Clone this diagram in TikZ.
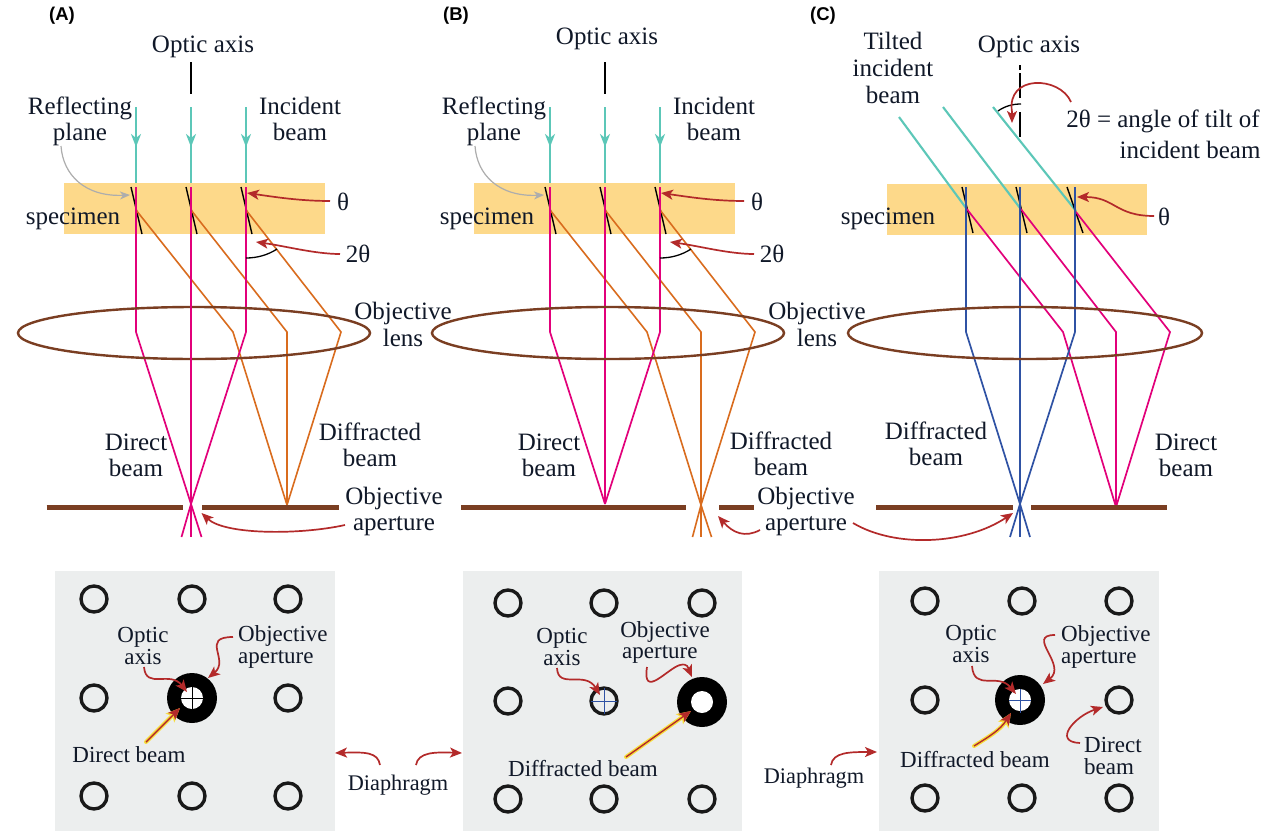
\documentclass[tikz,border=0pt]{standalone}
\usepackage{fontspec}
\setmainfont{Liberation Serif}
\newfontfamily\panelfont{Liberation Sans}
\usetikzlibrary{arrows.meta}
\definecolor{tealb}{HTML}{5CC7B8}
\definecolor{pinkb}{HTML}{E2007A}
\definecolor{orangeb}{HTML}{D96C1E}
\definecolor{blueb}{HTML}{2F52A4}
\definecolor{brownb}{HTML}{7A3E22}
\definecolor{redarr}{HTML}{B32A2A}
\definecolor{spec}{HTML}{FDD98A}
\definecolor{panelgray}{HTML}{ECEEEE}
\definecolor{yellowh}{HTML}{F7DE3A}
\definecolor{inkc}{HTML}{101828}
\tikzset{
  lbl/.style={inner sep=0pt,text=inkc,align=center,font=\fontsize{25}{26}\selectfont},
  lbs/.style={inner sep=0pt,text=inkc,align=center,font=\fontsize{23}{22}\selectfont},
  lbd/.style={inner sep=0pt,text=inkc,align=center,font=\fontsize{22.3}{22}\selectfont},
  lbl left/.style={lbs,align=left,anchor=west},
  tag/.style={inner sep=0pt,text=black,font=\panelfont\bfseries\fontsize{18.5}{20}\selectfont},
  tealbeam/.style={draw=tealb,line width=2.1pt},
  tealhead/.style={tealbeam,-{Stealth[length=13pt,width=10pt,inset=4pt]}},
  plane/.style={draw=black,line width=1.4pt},
  pinkbeam/.style={draw=pinkb,line width=1.7pt,line join=miter},
  orangebeam/.style={draw=orangeb,line width=1.6pt},
  bluebeam/.style={draw=blueb,line width=1.7pt},
  lens/.style={draw=brownb,line width=2.4pt},
  bar/.style={draw=brownb,line width=5pt},
  redar/.style={draw=redarr,line width=1.7pt,-{Stealth[length=12pt,width=10pt,inset=3pt]}},
  grayar/.style={draw=black!32,line width=1.2pt,-{Stealth[length=10pt,width=8pt,inset=3pt]}},
  halo/.style={draw=yellowh,line width=4pt,line cap=round,-{Stealth[length=14pt,width=12pt,inset=3pt]}},
  arcline/.style={draw=black,line width=1.3pt},
  hole/.style={circle,draw=black!90,line width=3.4pt,minimum size=26pt,inner sep=0pt},
  ringap/.style={circle,fill=black,minimum size=50pt,inner sep=0pt},
  ringin/.style={circle,fill=white,minimum size=22pt,inner sep=0pt},
  pgray/.style={fill=panelgray},
}
% upper panel with normal incidence: #1 beam shift, #2 prefix, #3 specimen shift
\newcommand{\uprightpanel}[3]{%
\begin{scope}[xshift=#1pt,name prefix=#2-]
  \fill[spec,xshift=#3pt] (64,183) rectangle (325,234);
  \foreach \x/\xx in {136/233,191/287,246/341}{
    \draw[tealhead] (\x,107) -- (\x,147);
    \draw[tealbeam] (\x,145) -- (\x,183);
    \draw[plane] (\x-5,187) -- (\x+6,234);
    \draw[orangebeam] (\x,210) -- (\xx,332) -- (287,505);
    \draw[pinkbeam] (\x,187) -- (\x,332) -- (191,504);
  }
  \draw[lens] (194,333) ellipse [x radius=176,y radius=26];
  \draw[plane] (191,62) -- (191,94);
  \draw[arcline] (246,258) .. controls (257,258) and (268,255) .. (277,249);
  \coordinate (thetas) at (330,201);
  \coordinate (thetae) at (247,193);
  \coordinate (ttas) at (340,254);
  \coordinate (ttae) at (256,242);
  \coordinate (rps) at (61,146);
  \coordinate (rpe) at (130,195);
  \draw[redar] (thetas) .. controls (300,201) and (275,197) .. (thetae);
  \draw[redar] (ttas) .. controls (315,254) and (285,246) .. (ttae);
  \draw[grayar] (rps) .. controls (63,175) and (85,197) .. (rpe);
  \node[lbl] (rp) at (80,121) {Reflecting\\plane};
  \node[lbl] (ib) at (300,119) {Incident\\beam};
  \node[lbl] (sp) at (73,219) {specimen};
  \node[lbl] (th) at (343,202) {θ};
  \node[lbl] (tt) at (358,254) {2θ};
\end{scope}}
\newcommand{\gridholes}[2]{%
  \foreach \hx/\hy/\hn in {#1}{\node[hole] (#2\hn) at (\hx,\hy) {};}%
}
\begin{document}
\begin{tikzpicture}[x=1pt,y=-1pt]
\useasboundingbox (0,0) rectangle (1269,838);
\fill[white] (0,0) rectangle (1269,838);

\node[tag] (tagA) at (62,16) {(A)};
\node[tag] (tagB) at (456,16) {(B)};
\node[tag] (tagC) at (823,16) {(C)};

% ---------- Panel A ----------
\uprightpanel{0}{A}{0}
\draw[pinkbeam] (191,504) -- (181.5,537);
\draw[pinkbeam] (191,504) -- (201.5,537);
\draw[pinkbeam] (191,187) -- (191,537);
\draw[bar] (46.5,507) -- (183,507);
\draw[bar] (202,507) -- (339,507);
\node[lbl] (Aax) at (203,47) {Optic axis};
\node[lbl] (Alens) at (403,324) {Objective\\[1pt]lens};
\node[lbl] (Adb) at (136,455) {Direct\\beam};
\node[lbl] (Adf) at (370,445) {Diffracted\\beam};
\node[lbl] (Aoa) at (394,511) {Objective\\aperture};
\coordinate (Aoas) at (345,525);
\coordinate (Aoae) at (201.5,513);
\draw[redar] (Aoas) .. controls (300,535) and (225,535) .. (Aoae);

% ---------- Panel B ----------
\uprightpanel{414}{B}{-4}
\draw[orangebeam] (701,505) -- (692.5,537);
\draw[orangebeam] (701,505) -- (711.5,537);
\draw[orangebeam] (701,505) -- (701,537);
\draw[bar] (461,507) -- (686,507);
\draw[bar] (719,507) -- (754,507);
\node[lbl] (Bax) at (607,39) {Optic axis};
\node[lbl] (Blens) at (817,324) {Objective\\[1pt]lens};
\node[lbl] (Bdb) at (549,455) {Direct\\beam};
\node[lbl] (Bdf) at (781,454) {Diffracted\\beam};
\node[lbl] (Boa) at (806,511) {Objective\\aperture};
\coordinate (Boas) at (760,530);
\coordinate (Boae) at (718,516);
\coordinate (Bos2) at (853,523);
\coordinate (Boe2) at (1013,513);
\draw[redar] (Boas) .. controls (745,538) and (733,533) .. (Boae);
\draw[redar] (Bos2) .. controls (895,548) and (965,545) .. (Boe2);

% ---------- Panel C ----------
\fill[spec] (887,184) rectangle (1147,235);
\foreach \xa/\ya/\xb/\yb in {899/117/966/208,943/107/1020/208,993/107/1076/211}{
  \draw[tealbeam] (\xa,\ya) -- (\xb,\yb);
}
\foreach \xa/\xb in {962/973,1016/1027,1067/1083}{
  \draw[plane] (\xa,187) -- (\xb,233);
}
\foreach \x/\xp/\yp/\xq in {966/966/208/1063,1020/1020/208/1116,1075/1076/212/1170}{
  \draw[pinkbeam] (\xp,\yp) -- (\xq,332) -- (1116,507);
  \draw[bluebeam] (\x,187) -- (\x,332) -- (1020,504);
}
\draw[bluebeam] (1020,504) -- (1010,537);
\draw[bluebeam] (1020,504) -- (1030,537);
\draw[bluebeam] (1020,187) -- (1020,537);
\draw[lens] (1025,333) ellipse [x radius=177,y radius=26];
\draw[bar] (876,507) -- (1013,507);
\draw[bar] (1031,507) -- (1167,507);
\draw[plane] (1020,65) -- (1020,70);
\draw[plane] (1020,73) -- (1020,98);
\draw[plane] (1020,112) -- (1020,137);
\draw[arcline] (998,111) .. controls (1005,106) and (1013,104) .. (1021,104);
\coordinate (Ctls) at (1071,102);
\coordinate (Ctle) at (1012,123);
\draw[redar] (Ctls) .. controls (1060,76) and (1006,74) .. (1012,112) -- (Ctle);
\coordinate (Cths) at (1154,216);
\coordinate (Cthe) at (1077,197);
\draw[redar] (Cths) .. controls (1115,216) and (1115,197) .. (Cthe);
\node[lbl] (Cax) at (1029,47) {Optic axis};
\node[lbl] (Ctl) at (893,68) {Tilted\\[1pt]incident\\[1pt]beam};
\node[lbl] (Cang) at (1163,121) {2θ = angle of tilt of};
\node[lbl] (Cinc) at (1190,150) {incident beam};
\node[lbl] (Csp) at (888,219) {specimen};
\node[lbl] (Cth) at (1164,217) {θ};
\node[lbl] (Cdf) at (936,444) {Diffracted\\beam};
\node[lbl] (Cdb) at (1186,455) {Direct\\beam};

% ---------- Lower panel A ----------
\fill[pgray] (55,571) rectangle (335,831);
\gridholes{94/599/a,192/599/b,288/599/c,94/698/d,288/698/f,94/796/g,192/796/h,288/796/i}{pA}
\node[ringap] (rA) at (192,698) {};
\node[ringin] (rAi) at (rA) {};
\draw[black,line width=0.9pt] (181,698) -- (203,698);
\draw[black,line width=0.9pt] (192,687) -- (192,709);
\node[lbs] (Aoptic) at (143,646) {Optic\\axis};
\node[lbl left] (Aobj) at (238,647) {Objective\\aperture};
\node[lbs] (Adir) at (129,755) {Direct beam};
\coordinate (Ao1) at (144,667);
\coordinate (Ao2) at (187,692);
\draw[redar] (Ao1) .. controls (146,690) and (170,670) .. (Ao2);
\coordinate (Ao3) at (233,637);
\coordinate (Ao4) at (208,678);
\draw[redar] (Ao3) .. controls (200,637) and (230,660) .. (Ao4);
\coordinate (Ab1) at (146,742);
\coordinate (Ab2) at (180,708);
\draw[halo] (Ab1) -- (Ab2);
\draw[redar,line width=1.4pt] (Ab1) -- (Ab2);
\node[lbd] (Adia) at (398,785) {Diaphragm};
\coordinate (Ad1) at (380,765);
\coordinate (Ad2) at (335,753);
\coordinate (Ad3) at (416,765);
\coordinate (Ad4) at (462,753);
\draw[redar] (Ad1) .. controls (378,752) and (365,752) .. (Ad2);
\draw[redar] (Ad3) .. controls (418,752) and (435,752) .. (Ad4);

% ---------- Lower panel B ----------
\fill[pgray] (463,571) rectangle (742,831);
\gridholes{508/603/a,604/603/b,702/603/c,508/701/d,604/701/e,508/799/g,604/799/h,702/799/i}{pB}
\node[ringap] (rB) at (702,702) {};
\node[ringin] (rBi) at (rB) {};
\draw[blueb,line width=0.9pt] (591,701) -- (617,701);
\draw[blueb,line width=0.9pt] (604,688) -- (604,714);
\node[lbs] (Boptic) at (562,647) {Optic\\axis};
\node[lbs] (Bobj1) at (665,632) {Objective};
\node[lbl left] (Bobj2) at (622,654) {aperture};
\node[lbs] (Bdif) at (583,769) {Diffracted beam};
\coordinate (Bo1) at (557,668);
\coordinate (Bo2) at (600,695);
\draw[redar] (Bo1) .. controls (558,690) and (585,670) .. (Bo2);
\coordinate (Bo3) at (647,667);
\coordinate (Bo4) at (692,677);
\draw[redar] (Bo3) .. controls (642,700) and (668,668) .. (680,665) .. controls (688,663) and (688,668) .. (Bo4);
\coordinate (Bb1) at (626,757);
\coordinate (Bb2) at (691,711);
\draw[halo] (Bb1) -- (Bb2);
\draw[redar,line width=1.4pt] (Bb1) -- (Bb2);
\node[lbd] (Bdia) at (814,778) {Diaphragm};
\coordinate (Bd1) at (831,765);
\coordinate (Bd2) at (877,752);
\draw[redar] (Bd1) .. controls (833,752) and (850,752) .. (Bd2);

% ---------- Lower panel C ----------
\fill[pgray] (879,571) rectangle (1159,831);
\gridholes{925/601/a,1022/601/b,1119/601/c,925/700/d,1119/700/f,925/798/g,1022/798/h,1119/798/i}{pC}
\node[ringap] (rC) at (1020,700) {};
\node[ringin] (rCi) at (rC) {};
\draw[blueb,line width=0.9pt] (1009,700) -- (1031,700);
\draw[blueb,line width=0.9pt] (1020,689) -- (1020,713);
\node[lbs] (Coptic) at (971,644) {Optic\\axis};
\node[lbl left] (Cobj) at (1061,647) {Objective\\aperture};
\node[lbs] (Cdif) at (975,760) {Diffracted beam};
\node[lbl left] (Cdir) at (1084,756) {Direct\\beam};
\coordinate (Co1) at (972,666);
\coordinate (Co2) at (1016,694);
\draw[redar] (Co1) .. controls (974,692) and (998,672) .. (Co2);
\coordinate (Co3) at (1055,635);
\coordinate (Co4) at (1043,684);
\draw[redar] (Co3) .. controls (1025,635) and (1068,665) .. (Co4);
\coordinate (Cb1) at (974,746);
\coordinate (Cb2) at (1011,713);
\draw[halo] (Cb1) .. controls (990,736) and (1000,730) .. (Cb2);
\draw[redar,line width=1.4pt] (Cb1) .. controls (990,736) and (1000,730) .. (Cb2);
\coordinate (Cd1) at (1080,743);
\coordinate (Cd2) at (1103,707);
\draw[redar] (Cd1) .. controls (1052,742) and (1075,716) .. (Cd2);
\end{tikzpicture}
\end{document}
